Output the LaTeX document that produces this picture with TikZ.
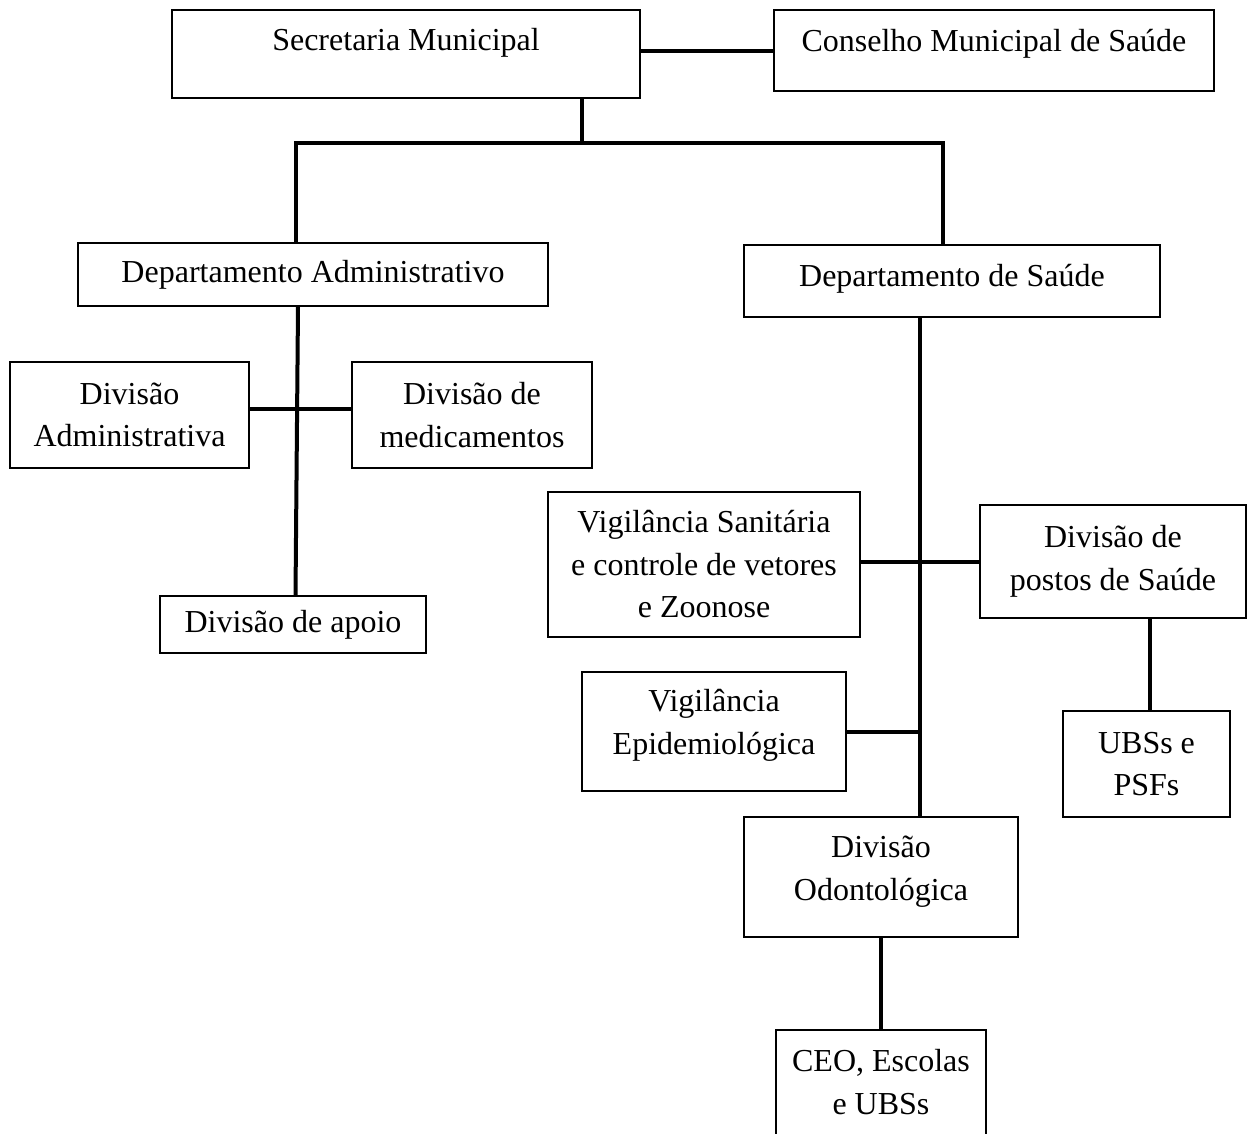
\documentclass[tikz,border=0pt]{standalone}
\usepackage{fontspec}
\setmainfont{Liberation Serif}
\usepackage{tikz}

\tikzset{
  box/.style={rectangle, draw, line width=1.3pt, inner sep=0pt, align=center},
  link/.style={line width=4pt}
}

\begin{document}
\begin{tikzpicture}[x=1pt, y=-1pt, node distance=140pt, font=\fontsize{32}{42.5}\selectfont]
    \useasboundingbox (0,0) rectangle (1248,1133);
    \clip (0,0) rectangle (1248,1133);

    \node[box, minimum width=468pt, text height=40pt, text depth=48pt] (sec) at (406,54) {Secretaria Municipal};
    \node[box, right of=sec, node distance=588pt, yshift=3.5pt, minimum width=440pt, text height=41pt, text depth=40pt] (cons) {Conselho Municipal de Saúde};
    \node[box, below of=sec, node distance=220.5pt, xshift=-93pt, minimum width=470pt, minimum height=63pt] (dadm) {Departamento Administrativo};
    \node[box, right of=dadm, node distance=639pt, yshift=-6.5pt, minimum width=416pt, minimum height=72pt, text depth=11pt] (dsau) {Departamento de Saúde};

    \node[box, below of=dadm, node distance=140.5pt, xshift=-183.5pt, minimum width=239pt, minimum height=106pt] (divadm) {Divisão\\Administrativa};
    \node[box, right of=divadm, node distance=342.5pt, minimum width=240pt, minimum height=106pt] (divmed) {Divisão de\\medicamentos};
    \node[box, below of=dadm, node distance=350pt, xshift=-20pt, minimum width=266pt, minimum height=57pt] (apoio) {Divisão de apoio};

    \node[box, below of=dsau, node distance=283.5pt, xshift=-248pt, minimum width=312pt, minimum height=145pt] (vigsan) {Vigilância Sanitária\\e controle de vetores\\e Zoonose};
    \node[box, right of=vigsan, node distance=409pt, yshift=3pt, minimum width=266pt, minimum height=113pt] (postos) {Divisão de\\postos de Saúde};
    \node[box, below of=postos, node distance=202.5pt, xshift=33.5pt, minimum width=167pt, minimum height=106pt] (ubs) {UBSs e\\PSFs};
    \node[box, below of=vigsan, node distance=167pt, xshift=10pt, minimum width=264pt, minimum height=119pt, text depth=19pt] (vigepi) {Vigilância\\Epidemiológica};
    \node[box, below of=dsau, node distance=596pt, xshift=-71pt, minimum width=274pt, minimum height=120pt, text depth=18pt] (odonto) {Divisão\\Odontológica};
    \node[box, below of=odonto, node distance=213pt, minimum width=210pt, minimum height=120pt, text depth=16pt] (ceo) {CEO, Escolas\\e UBSs};

    \coordinate (jn) at (582,143);
    \coordinate (trunk) at ([xshift=-32pt]dsau.south);

    \draw[link] (cons.west) -- (cons.west -| sec.east);
    \draw[link] (sec.south -| jn) -- (jn);
    \draw[link] ([xshift=-17pt]dadm.north) |- (jn) -| ([xshift=-9pt]dsau.north);
    \draw[link] ([xshift=-15pt]dadm.south) -- ([xshift=2.5pt]apoio.north);
    \draw[link] ([yshift=6pt]divadm.east) -- ([yshift=6pt]divmed.west);
    \draw[link] (trunk) -- (trunk |- odonto.north);
    \draw[link] (postos.west) -- (postos.west -| vigsan.east);
    \draw[link] ([xshift=37pt]postos.south) -- ([xshift=37pt]postos.south |- ubs.north);
    \draw[link] (vigepi.east) -- (vigepi.east -| trunk);
    \draw[link] (odonto.south) -- (ceo.north);
\end{tikzpicture}
\end{document}
